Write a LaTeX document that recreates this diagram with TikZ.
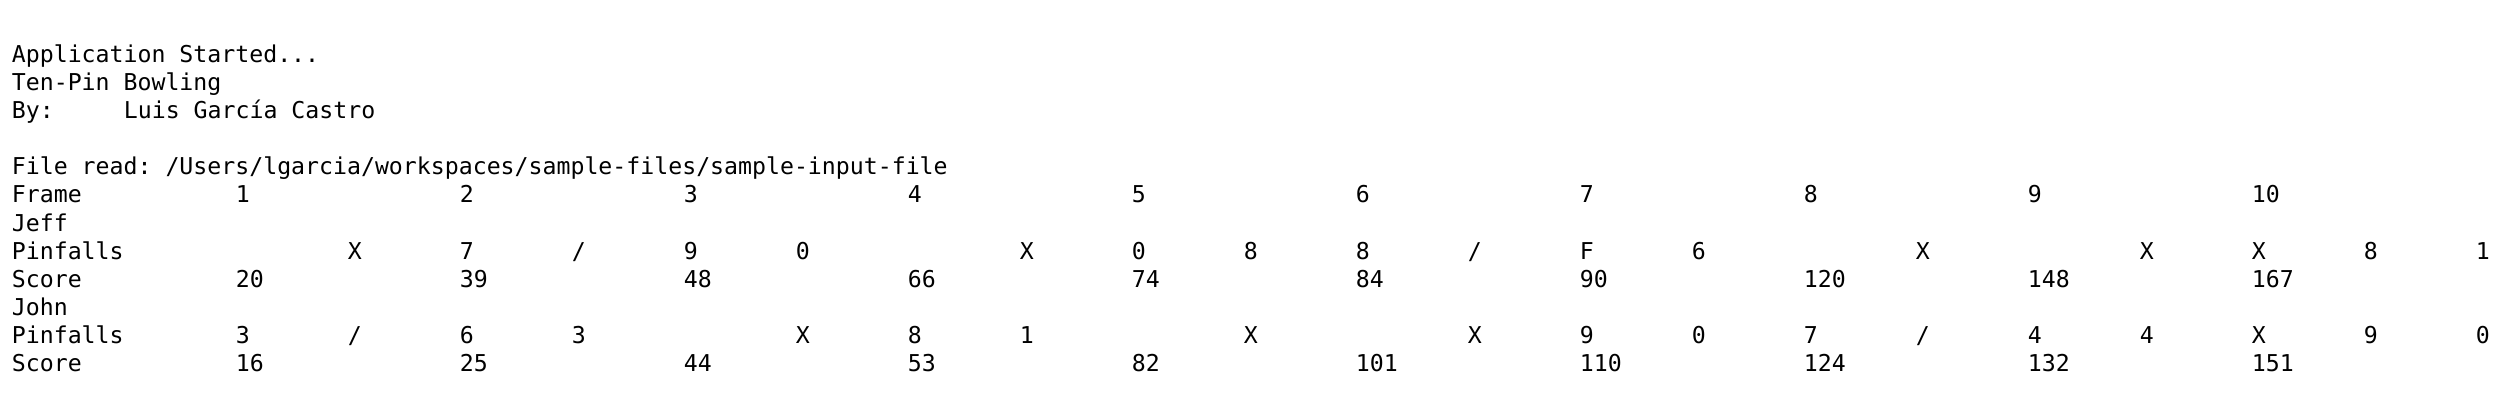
\documentclass[tikz,border=0pt]{standalone}
\usepackage{fontspec}
\setmonofont{DejaVu Sans Mono}
\usetikzlibrary{matrix}
\newcommand\tabw{56pt}
\tikzstyle{con}=[font=\ttfamily\fontsize{11.6pt}{14.05pt}\selectfont,inner sep=0pt,text=black]
\tikzstyle{ln}=[con,anchor=base west]
\tikzstyle{cell}=[con,text width=\tabw,align=left,text height=10pt,text depth=4.05pt]

\begin{document}
\begin{tikzpicture}
	\useasboundingbox (0,0) rectangle (1257pt,-207pt);
	\node[ln] (start)  at (5.75pt,-31pt)    {Application Started...};
	\node[ln] (title)  at (5.75pt,-45.05pt) {Ten-Pin Bowling};
	\node[ln] (by)     at (5.75pt,-59.1pt)  {By:};
	\node[ln] (author) at (61.75pt,-59.1pt) {Luis García Castro};
	\node[ln] (file)   at (5.75pt,-87.2pt)  {File read: /Users/lgarcia/workspaces/sample-files/sample-input-file};
	\matrix (m) [matrix of nodes,nodes=cell,column 1/.style={nodes={text width=2*\tabw}},
	  anchor=north west,inner sep=0pt] at (5.75pt,-91.25pt) {
	  Frame & 1 & & 2 & & 3 & & 4 & & 5 & & 6 & & 7 & & 8 & & 9 & & 10 & & \\
	  Jeff \\
	  Pinfalls & & X & 7 & / & 9 & 0 & & X & 0 & 8 & 8 & / & F & 6 & & X & & X & X & 8 & 1 \\
	  Score & 20 & & 39 & & 48 & & 66 & & 74 & & 84 & & 90 & & 120 & & 148 & & 167 & & \\
	  John \\
	  Pinfalls & 3 & / & 6 & 3 & & X & 8 & 1 & & X & & X & 9 & 0 & 7 & / & 4 & 4 & X & 9 & 0 \\
	  Score & 16 & & 25 & & 44 & & 53 & & 82 & & 101 & & 110 & & 124 & & 132 & & 151 & & \\
	};
\end{tikzpicture}
\end{document}
